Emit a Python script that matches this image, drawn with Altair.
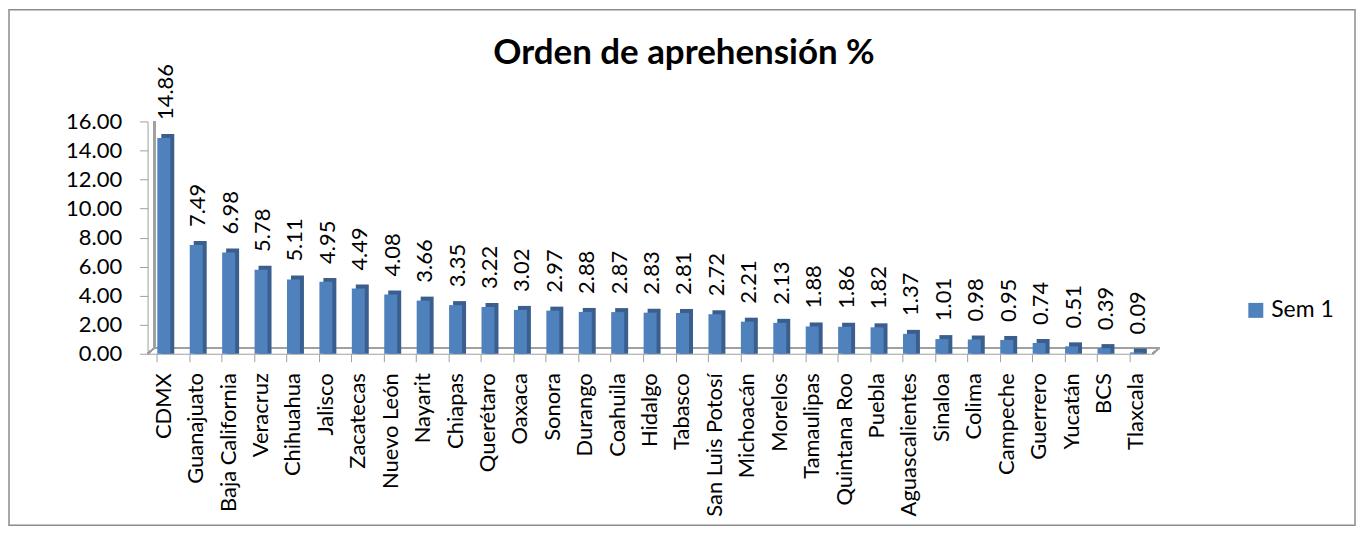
import altair as alt
import pandas as pd

estados = ["CDMX", "Guanajuato", "Baja California", "Veracruz", "Chihuahua", "Jalisco",
           "Zacatecas", "Nuevo León", "Nayarit", "Chiapas", "Querétaro", "Oaxaca", "Sonora",
           "Durango", "Coahuila", "Hidalgo", "Tabasco", "San Luis Potosí", "Michoacán",
           "Morelos", "Tamaulipas", "Quintana Roo", "Puebla", "Aguascalientes", "Sinaloa",
           "Colima", "Campeche", "Guerrero", "Yucatán", "BCS", "Tlaxcala"]
valores = [14.86, 7.49, 6.98, 5.78, 5.11, 4.95, 4.49, 4.08, 3.66, 3.35, 3.22, 3.02, 2.97,
           2.88, 2.87, 2.83, 2.81, 2.72, 2.21, 2.13, 1.88, 1.86, 1.82, 1.37, 1.01, 0.98,
           0.95, 0.74, 0.51, 0.39, 0.09]
serie = "Sem 1"
titulo = "Orden de aprehensión %"
y_ticks = [0, 2, 4, 6, 8, 10, 12, 14, 16]

df = pd.DataFrame({"estado": estados, "valor": valores, "serie": serie})

FONT = "Lato"
W, H = 1008, 233

x_enc = alt.X("estado:N", sort=estados, title=None,
              scale=alt.Scale(paddingInner=0.6, paddingOuter=0.3),
              axis=alt.Axis(labelAngle=270, labelAlign="right", labelBaseline="middle",
                            labelFontSize=22, labelFont=FONT, labelColor="black",
                            labelPadding=11, tickSize=8, tickColor="#a0a0a0",
                            domainColor="#a0a0a0", bandPosition=0, ticks=True))
y_enc = alt.Y("valor:Q", title=None,
              scale=alt.Scale(domain=[0, 16], nice=False),
              axis=alt.Axis(values=y_ticks, format=".2f", labelFontSize=22, labelFont=FONT,
                            labelColor="black", tickSize=8, tickColor="#a0a0a0",
                            domainColor="#a0a0a0", grid=False, labelPadding=18))

base = alt.Chart(df)

side = base.mark_bar(color="#3A5F8E", xOffset=4, yOffset=-4).encode(
    x=x_enc, y=y_enc, y2=alt.datum(0))
front = base.mark_bar().encode(
    x=x_enc, y=y_enc,
    color=alt.Color("serie:N", title=None,
                    scale=alt.Scale(domain=[serie], range=["#4F81BD"]),
                    legend=alt.Legend(orient="none", legendX=1100, legendY=178,
                                      symbolType="square", symbolSize=225,
                                      symbolStrokeWidth=0, labelFontSize=23,
                                      labelFont=FONT, labelColor="black", padding=0)))
labels = base.mark_text(angle=270, align="left", baseline="middle", fontSize=22,
                        font=FONT, color="black", dx=18, xOffset=2).encode(
    x=x_enc, y=y_enc, text=alt.Text("valor:Q", format=".2f"))

floor_back = base.mark_rule(color="#a0a0a0", strokeWidth=1.5).encode(
    x=alt.value(7), x2=alt.value(W + 7), y=alt.value(H - 6))
floor_right = base.mark_rule(color="#a0a0a0", strokeWidth=1.5).encode(
    x=alt.value(W), x2=alt.value(W + 7), y=alt.value(H), y2=alt.value(H - 6))
floor_left = base.mark_rule(color="#a0a0a0", strokeWidth=1.5).encode(
    x=alt.value(0), x2=alt.value(7), y=alt.value(H), y2=alt.value(H - 6))
wall = base.mark_rule(color="#a0a0a0", strokeWidth=1.5).encode(
    x=alt.value(7), y=alt.value(0), y2=alt.value(H - 6))

title = alt.Chart(pd.DataFrame({"t": [titulo]})).mark_text(
    fontSize=35, fontWeight="bold", font=FONT, color="black", baseline="middle").encode(
    x=alt.value(538), y=alt.value(-69), text="t:N")

border = alt.Chart(pd.DataFrame({"t": [0]})).mark_rect(
    fill=None, stroke="#8c8c8c", strokeWidth=1.5).encode(
    x=alt.value(-140 + 1), x2=alt.value(1212 - 1), y=alt.value(-113 + 1), y2=alt.value(406 - 1))

chart = alt.layer(border, floor_back, floor_left, floor_right, wall, side, front, labels, title).properties(
    width=W, height=H,
    background="white",
    autosize=alt.AutoSizeParams(type="none"),
    padding={"left": 140, "top": 113, "right": 1352 - 140 - W, "bottom": 520 - 113 - H},
).configure_view(stroke=None)

chart.save("out.html", embed_options={"renderer": "svg", "actions": False})
